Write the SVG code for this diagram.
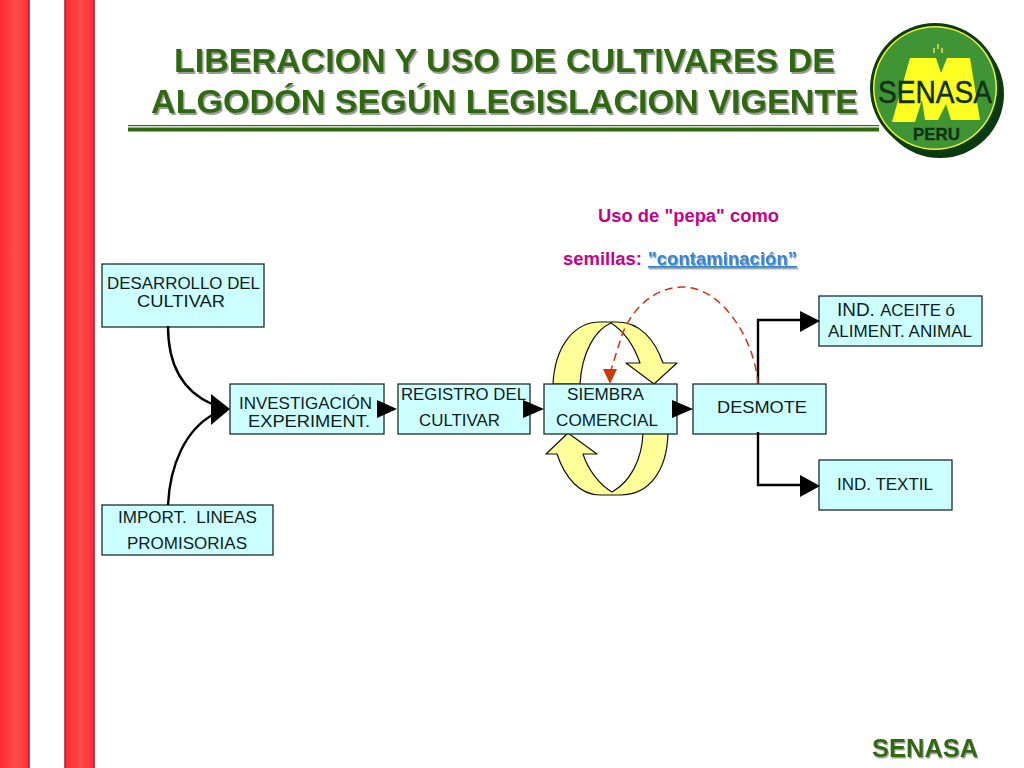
<svg xmlns="http://www.w3.org/2000/svg" width="1024" height="768" viewBox="0 0 1024 768">
<style>
text{font-family:"Liberation Sans",Arial,sans-serif}
.box{fill:#ccffff;stroke:#1c2c2c;stroke-width:1.3}
.t{font-size:17px;fill:#0c1c1c}
.title{font-size:34px;font-weight:bold;fill:#2f6a0f;filter:url(#sh)}
.y{fill:#ffff99;stroke:#111;stroke-width:1.2;stroke-linejoin:round}
.c{fill:none;stroke:#000;stroke-width:2.4}
.h{fill:#000}
</style>
<defs>
<linearGradient id="r" x1="0" x2="1" y1="0" y2="0"><stop offset="0" stop-color="#ff2a30"/><stop offset=".55" stop-color="#ff4c4c"/><stop offset="1" stop-color="#ff2d35"/></linearGradient>
<filter id="sh" x="-5%" y="-20%" width="110%" height="150%"><feDropShadow dx="1.5" dy="2" stdDeviation="0.5" flood-color="#9a9a9a"/></filter>
<filter id="sh2" x="-5%" y="-20%" width="110%" height="150%"><feDropShadow dx="1" dy="1.5" stdDeviation="0.5" flood-color="#a0a0a0"/></filter>
</defs>
<rect width="1024" height="768" fill="#fff"/>
<g id="stripes">
<rect x="0" y="0" width="29" height="768" fill="url(#r)"/>
<rect x="65" y="0" width="29" height="768" fill="url(#r)"/>
<path d="M29 0V768M65 0V768M94 0V768" stroke="#a81c34" stroke-width="1.5" fill="none"/>
</g>
<g id="title">
<text class="title" x="174" y="72" textLength="661" lengthAdjust="spacingAndGlyphs">LIBERACION Y USO DE CULTIVARES DE</text>
<text class="title" x="151" y="113" textLength="707" lengthAdjust="spacingAndGlyphs">ALGODÓN SEGÚN LEGISLACION VIGENTE</text>
<rect x="128" y="125" width="751" height="1.2" fill="#2f6a0f"/>
<rect x="128" y="127.5" width="751" height="4" fill="#2f6a0f"/>
</g>
<g id="logo">
<circle cx="940" cy="94" r="64" fill="#0b3a12"/>
<circle cx="935" cy="88" r="65" fill="#0e3d14"/>
<circle cx="935" cy="88" r="62" fill="#f4f430"/>
<circle cx="935" cy="88" r="60.5" fill="#3f9433"/>
<path d="M892 122L910 58H936L941 73L947 58H970L980 120H951L946 104L938 120H925L922 100L915 122Z" fill="#ffff22"/>
<path d="M938 44v5M934 48v5M942 48v5" stroke="#dddd55" stroke-width="1.6" fill="none"/>
<text x="878" y="103" font-size="32" fill="#123018" stroke="#123018" stroke-width=".5" textLength="114" lengthAdjust="spacingAndGlyphs">SENASA</text>
<text x="913" y="140" font-size="17" font-weight="bold" fill="#123018" stroke="#123018" stroke-width=".3" textLength="47" lengthAdjust="spacingAndGlyphs">PERU</text>
</g>
<g id="cycle-top">
<path class="y" d="M553 384C555 345 575 322 600 322H617C640 322 655 340 663 363H677L654 384L626 363H640C633 343 622 330 611 323C595 330 582 352 580 384Z"/>
</g>
<g id="cycle-bottom">
<path class="y" d="M668 433C667 470 650 495 620 495H600C580 495 565 478 557 454H546L568 433L597 454H583C588 470 600 485 612 492C630 482 642 460 643 433Z"/>
</g>
<g id="node-desarrollo">
<rect class="box" x="102" y="264" width="162" height="63"/>
<text class="t" x="107" y="289" textLength="153" lengthAdjust="spacingAndGlyphs">DESARROLLO DEL</text>
<text class="t" x="137" y="307" textLength="88" lengthAdjust="spacingAndGlyphs">CULTIVAR</text>
</g>
<g id="node-investigacion">
<rect class="box" x="230" y="384" width="154" height="50"/>
<text class="t" x="239" y="409" textLength="133" lengthAdjust="spacingAndGlyphs">INVESTIGACIÓN</text>
<text class="t" x="248" y="427" textLength="122" lengthAdjust="spacingAndGlyphs">EXPERIMENT.</text>
</g>
<g id="node-registro">
<rect class="box" x="398" y="384" width="132" height="50"/>
<text class="t" x="401" y="400" textLength="125" lengthAdjust="spacingAndGlyphs">REGISTRO DEL</text>
<text class="t" x="419" y="426" textLength="81" lengthAdjust="spacingAndGlyphs">CULTIVAR</text>
</g>
<g id="node-siembra">
<rect class="box" x="544" y="384" width="133" height="50"/>
<text class="t" x="567" y="400" textLength="77" lengthAdjust="spacingAndGlyphs">SIEMBRA</text>
<text class="t" x="556" y="426" textLength="102" lengthAdjust="spacingAndGlyphs">COMERCIAL</text>
</g>
<g id="node-desmote">
<rect class="box" x="693" y="384" width="133" height="50"/>
<text class="t" x="717" y="413" textLength="90" lengthAdjust="spacingAndGlyphs">DESMOTE</text>
</g>
<g id="node-aceite">
<rect class="box" x="819" y="296" width="163" height="50"/>
<text class="t" x="837" y="316" font-size="18" style="font-size:18px" textLength="118" lengthAdjust="spacingAndGlyphs">IND. <tspan style="font-size:16px">ACEITE ó</tspan></text>
<text class="t" x="828" y="337" textLength="144" lengthAdjust="spacingAndGlyphs">ALIMENT. ANIMAL</text>
</g>
<g id="node-textil">
<rect class="box" x="819" y="460" width="133" height="50"/>
<text class="t" x="837" y="490" textLength="96" lengthAdjust="spacingAndGlyphs">IND. TEXTIL</text>
</g>
<g id="node-import">
<rect class="box" x="102" y="505" width="171" height="50"/>
<text class="t" x="118" y="523" xml:space="preserve" textLength="139" lengthAdjust="spacingAndGlyphs">IMPORT.  LINEAS</text>
<text class="t" x="127" y="549" textLength="120" lengthAdjust="spacingAndGlyphs">PROMISORIAS</text>
</g>
<g id="connectors">
<path class="c" d="M168 326C168 362 180 390 212 404"/>
<path class="c" d="M168 505C170 465 185 430 214 414"/>
<path class="h" d="M211 394L230 409L211 425Z"/>
<path class="h" d="M377 400L397 409L377 418Z"/>
<path class="h" d="M523 400L544 409L523 418Z"/>
<path class="h" d="M672 400L693 409L672 418Z"/>
<path class="c" d="M758 384V320H802"/>
<path class="c" d="M758 432V485H802"/>
<path class="h" d="M800 311L820 321L800 332Z"/>
<path class="h" d="M800 475L820 486L800 497Z"/>
<path d="M758 384C755 340 722 287 683 287C655 287 632 308 622 335L611 370" fill="none" stroke="#cc3311" stroke-width="1.5" stroke-dasharray="8 5"/>
<path d="M603 369H617L610 384Z" fill="#cc3a0a"/>
</g>
<g id="note">
<text x="598" y="222" font-size="18" font-weight="bold" fill="#c0048c" textLength="181" lengthAdjust="spacingAndGlyphs">Uso de "pepa" como</text>
<text x="563" y="265" font-size="18" font-weight="bold" fill="#c0048c" textLength="79" lengthAdjust="spacingAndGlyphs">semillas:</text>
<text x="648" y="265" font-size="18" font-weight="bold" fill="#2a8ad8" text-decoration="underline" textLength="149" lengthAdjust="spacingAndGlyphs" style="filter:url(#sh2)">"contaminación”</text>
</g>
<text id="footer" x="872" y="757" font-size="25.5" font-weight="bold" fill="#2f6a0f" style="filter:url(#sh2)">SENASA</text>
</svg>
